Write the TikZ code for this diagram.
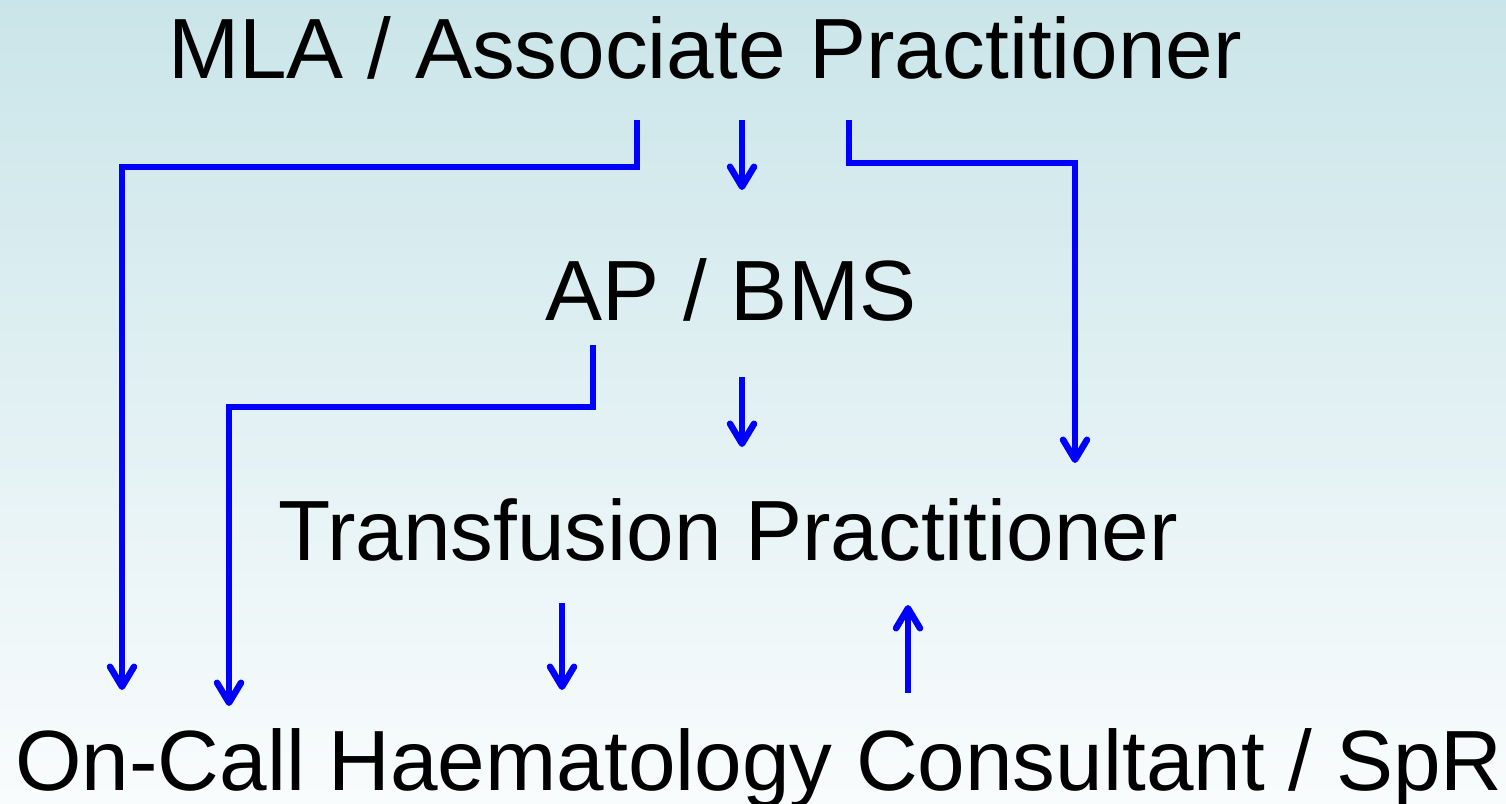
\documentclass[tikz,border=0pt]{standalone}
\usepackage{fontspec}
\setmainfont{Liberation Sans}
\usetikzlibrary{arrows.meta}
\definecolor{bgtop}{RGB}{202,229,233}
\definecolor{bgbot}{RGB}{249,252,253}
\definecolor{arrowblue}{RGB}{0,0,255}
\begin{document}
\begin{tikzpicture}[x=1pt,y=1pt,
  lbl/.style={anchor=base,inner sep=0pt,font=\fontsize{85.5}{96}\selectfont,text=black},
  conn/.style={draw=arrowblue,line width=6.5pt,line join=miter,-{Straight Barb[length=20pt,width=24pt,round]}}]
\shade[top color=bgtop,bottom color=bgbot] (0,0) rectangle (1506,-803);
\useasboundingbox (0,0) rectangle (1506,-803);
\node[lbl] (mla) at (705,-78) {MLA / Associate Practitioner};
\node[lbl] (ap) at (731,-320) {AP / BMS};
\node[lbl] (tp) at (728,-560) {Transfusion Practitioner};
\node[lbl] (oc) at (759,-790) {On-Call Haematology Consultant / SpR};
% coordinates
\coordinate (m1) at (637,-120);
\coordinate (m1e) at (122,-690);
\coordinate (m2) at (742,-120);
\coordinate (m2e) at (742,-190);
\coordinate (m3) at (849,-120);
\coordinate (m3e) at (1075,-463);
\coordinate (a1) at (593,-345);
\coordinate (a1e) at (229,-706);
\coordinate (a2) at (742,-377);
\coordinate (a2e) at (742,-447);
\coordinate (t1) at (562,-603);
\coordinate (t1e) at (562,-690);
\coordinate (o1) at (908,-693);
\coordinate (o1e) at (908,-605);
\draw[conn] (m1) -- (637,-167) -| (m1e);
\draw[conn] (m2) -- (m2e);
\draw[conn] (m3) -- (849,-163) -| (m3e);
\draw[conn] (a1) -- (593,-407) -| (a1e);
\draw[conn] (a2) -- (a2e);
\draw[conn] (t1) -- (t1e);
\draw[conn] (o1) -- (o1e);
\end{tikzpicture}
\end{document}
